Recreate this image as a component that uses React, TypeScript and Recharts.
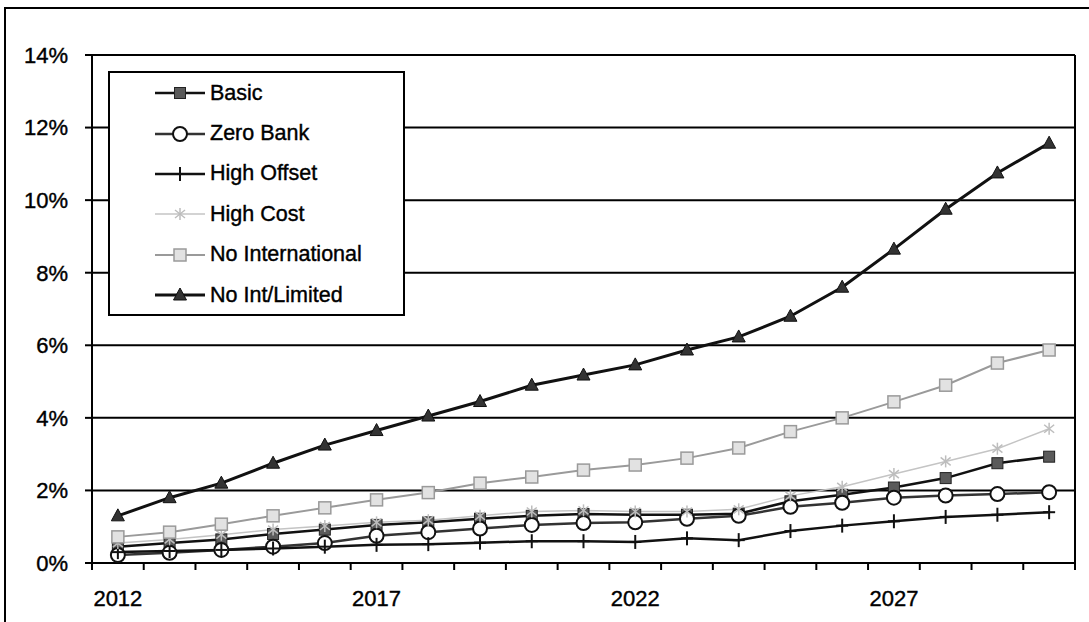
import { LineChart, Line, XAxis, YAxis, CartesianGrid, Legend, ReferenceLine } from 'recharts'

const years = [2012, 2013, 2014, 2015, 2016, 2017, 2018, 2019, 2020, 2021, 2022, 2023, 2024, 2025, 2026, 2027, 2028, 2029, 2030]

// values in percent
const basic = [0.45, 0.55, 0.65, 0.8, 0.92, 1.05, 1.12, 1.22, 1.3, 1.35, 1.33, 1.33, 1.36, 1.7, 1.88, 2.08, 2.34, 2.75, 2.93]
const zeroBank = [0.22, 0.28, 0.36, 0.45, 0.55, 0.75, 0.85, 0.95, 1.05, 1.1, 1.12, 1.22, 1.3, 1.55, 1.66, 1.8, 1.86, 1.9, 1.95]
const highOffset = [0.3, 0.33, 0.36, 0.4, 0.45, 0.5, 0.52, 0.56, 0.6, 0.6, 0.58, 0.68, 0.63, 0.88, 1.03, 1.15, 1.27, 1.33, 1.4]
const highCost = [0.55, 0.65, 0.78, 0.92, 1.02, 1.12, 1.18, 1.3, 1.42, 1.45, 1.42, 1.42, 1.48, 1.85, 2.1, 2.45, 2.8, 3.15, 3.7]
const noIntl = [0.72, 0.85, 1.07, 1.3, 1.52, 1.74, 1.94, 2.2, 2.37, 2.56, 2.7, 2.89, 3.17, 3.62, 4.0, 4.44, 4.9, 5.51, 5.87]
const noIntLimited = [1.3, 1.8, 2.2, 2.75, 3.25, 3.65, 4.05, 4.45, 4.9, 5.18, 5.46, 5.87, 6.23, 6.8, 7.6, 8.65, 9.75, 10.75, 11.57]

const xLabels = [2012, 2017, 2022, 2027]
const yTicks = [0, 2, 4, 6, 8, 10, 12, 14]
const yearEdges = [...years.map((y) => y - 0.5), years[years.length - 1] + 0.5]
const xTicks = [...yearEdges, ...xLabels].sort((a, b) => a - b)

const rows = years.map((year, i) => ({
  year,
  basic: basic[i],
  zeroBank: zeroBank[i],
  highOffset: highOffset[i],
  highCost: highCost[i],
  noIntl: noIntl[i],
  noIntLimited: noIntLimited[i],
}))

const font = '"Liberation Sans", Arial, sans-serif'
const tickText = { fill: '#000', fontSize: 22, fontFamily: font, stroke: '#000', strokeWidth: 0.4 }

type Kind = 'square' | 'circle' | 'plus' | 'star' | 'box' | 'triangle'

function Marker({ kind, cx, cy }: { kind: Kind; cx: number; cy: number }) {
  if (cx == null || cy == null) return null
  switch (kind) {
    case 'square':
      return <rect x={cx - 5.5} y={cy - 5.5} width={11} height={11} fill="#5a5a5a" stroke="#222" strokeWidth={1} />
    case 'circle':
      return <circle cx={cx} cy={cy} r={7} fill="#fff" stroke="#111" strokeWidth={2} />
    case 'plus':
      return (
        <g stroke="#111" strokeWidth={2}>
          <line x1={cx} x2={cx} y1={cy - 7} y2={cy + 7} />
          <line x1={cx - 6} x2={cx + 6} y1={cy} y2={cy} />
        </g>
      )
    case 'star':
      return (
        <g stroke="#bdbdbd" strokeWidth={1.5}>
          <line x1={cx} x2={cx} y1={cy - 6} y2={cy + 6} />
          <line x1={cx - 5} x2={cx + 5} y1={cy - 4} y2={cy + 4} />
          <line x1={cx - 5} x2={cx + 5} y1={cy + 4} y2={cy - 4} />
        </g>
      )
    case 'box':
      return <rect x={cx - 6} y={cy - 6} width={12} height={12} fill="#e2e2e2" stroke="#9a9a9a" strokeWidth={1.5} />
    case 'triangle':
      return <path d={`M${cx},${cy - 7}L${cx + 6.5},${cy + 5}L${cx - 6.5},${cy + 5}Z`} fill="#333" stroke="#111" strokeWidth={1} />
  }
}

// year labels sit under the points, tick marks sit between years
function YearTick({ x, y, payload }: any) {
  const v = payload.value
  if (xLabels.includes(v)) {
    return (
      <text x={x} y={y + 27} dy="0.71em" textAnchor="middle" {...tickText}>
        {v}
      </text>
    )
  }
  return <line x1={x} x2={x} y1={y} y2={y + 7} stroke="#000" strokeWidth={2} />
}

const series: { key: string; name: string; stroke: string; width: number; kind: Kind }[] = [
  { key: 'basic', name: 'Basic', stroke: '#111', width: 2.5, kind: 'square' },
  { key: 'zeroBank', name: 'Zero Bank', stroke: '#333', width: 2.5, kind: 'circle' },
  { key: 'highOffset', name: 'High Offset', stroke: '#111', width: 2.5, kind: 'plus' },
  { key: 'highCost', name: 'High Cost', stroke: '#c4c4c4', width: 1.5, kind: 'star' },
  { key: 'noIntl', name: 'No International', stroke: '#9a9a9a', width: 2, kind: 'box' },
  { key: 'noIntLimited', name: 'No Int/Limited', stroke: '#111', width: 3, kind: 'triangle' },
]

function LegendBox() {
  return (
    <div
      style={{
        width: 297,
        height: 245,
        boxSizing: 'border-box',
        border: '2px solid #000',
        background: '#fff',
        fontFamily: font,
        fontSize: 21.5,
        color: '#000',
        WebkitTextStroke: '0.4px #000',
      }}
    >
      {series.map((s) => (
        <div key={s.key} style={{ display: 'flex', alignItems: 'center', height: 40.4 }}>
          <svg width={100} height={20} style={{ flex: 'none' }}>
            <line x1={45} x2={95} y1={10} y2={10} stroke={s.stroke} strokeWidth={s.width} />
            <Marker kind={s.kind} cx={70} cy={10} />
          </svg>
          <span>{s.name}</span>
        </div>
      ))}
    </div>
  )
}

export default function App() {
  return (
    <div style={{ position: 'fixed', left: 0, top: 0, width: 1089, height: 622, overflow: 'hidden', background: '#fff' }}>
      <div
        style={{
          position: 'absolute',
          left: 4,
          top: 7,
          width: 1200,
          height: 800,
          border: '2px solid #000',
        }}
      />
      <div style={{ position: 'absolute', left: 0, top: 0 }}>
        <LineChart width={1089} height={622} data={rows} margin={{ top: 55, right: 14, bottom: 0, left: 0 }}>
          <CartesianGrid vertical={false} stroke="#000" strokeWidth={2} />
          <XAxis
            dataKey="year"
            type="number"
            domain={[2011.5, 2030.5]}
            allowDataOverflow
            ticks={xTicks}
            interval={0}
            tickLine={false}
            tickSize={0}
            tickMargin={0}
            axisLine={{ stroke: '#000', strokeWidth: 2 }}
            tick={<YearTick />}
            height={59}
          />
          <YAxis
            domain={[0, 14]}
            ticks={yTicks}
            interval={0}
            tickFormatter={(v: number) => `${v}%`}
            width={92}
            tickSize={7}
            tickMargin={17}
            axisLine={{ stroke: '#000', strokeWidth: 2 }}
            tickLine={{ stroke: '#000', strokeWidth: 2 }}
            tick={tickText}
          />
          <ReferenceLine x={2030.5} stroke="#000" strokeWidth={2} />
          {series.map((s) => (
            <Line
              key={s.key}
              dataKey={s.key}
              name={s.name}
              stroke={s.stroke}
              strokeWidth={s.width}
              isAnimationActive={false}
              dot={(p: any) => <Marker key={`${s.key}-${p.index}`} kind={s.kind} cx={p.cx} cy={p.cy} />}
            />
          ))}
          <Legend
            layout="horizontal"
            verticalAlign="middle"
            align="center"
            content={() => <LegendBox />}
            wrapperStyle={{ left: 108, top: 71, width: 297, height: 245 }}
          />
        </LineChart>
      </div>
    </div>
  )
}
